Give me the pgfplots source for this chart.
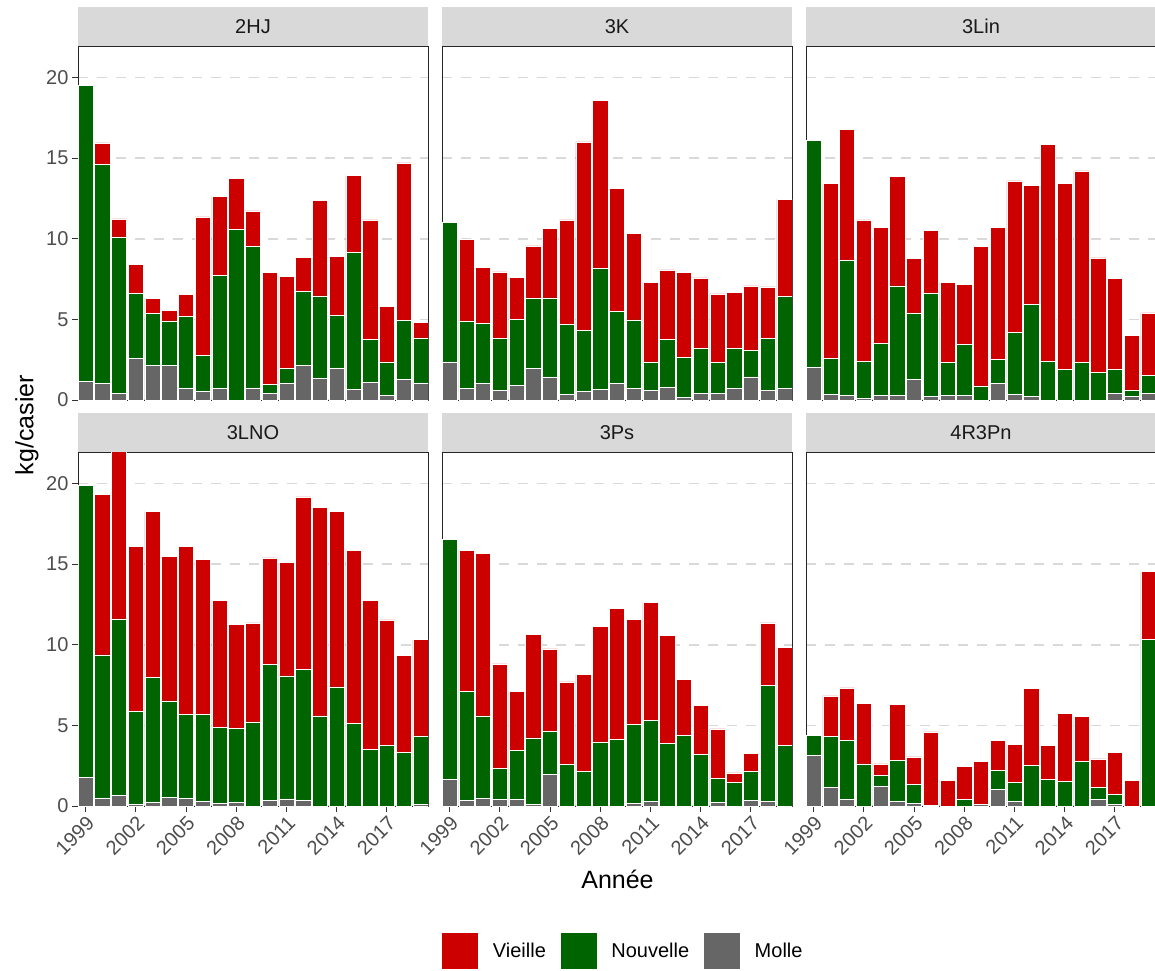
\documentclass[border=0pt]{standalone}
\usepackage{pgfplots}
\usepackage{pgfplotstable}
\usepackage{fontspec}
\setmainfont{Liberation Sans}
\pgfplotsset{compat=1.18}
\definecolor{cV}{HTML}{CD0000}
\definecolor{cN}{HTML}{006400}
\definecolor{cM}{HTML}{666666}
\definecolor{stripc}{HTML}{D9D9D9}
\definecolor{gridc}{HTML}{D9D9D9}
\definecolor{tickc}{HTML}{4D4D4D}

\pgfplotstableread{
year M N V
1999 1.16 18.36 0
2000 1.05 13.54 1.36
2001 0.41 9.70 1.12
2002 2.62 4.01 1.77
2003 2.13 3.26 0.91
2004 2.17 2.74 0.66
2005 0.76 4.42 1.38
2006 0.52 2.27 8.56
2007 0.72 7.00 4.91
2008 0 10.57 3.16
2009 0.76 8.78 2.18
2010 0.39 0.58 6.93
2011 1.05 0.93 5.70
2012 2.17 4.56 2.10
2013 1.36 5.10 5.92
2014 2.00 3.24 3.66
2015 0.64 8.50 4.79
2016 1.11 2.63 7.43
2017 0.31 2.06 3.45
2018 1.26 3.69 9.75
2019 1.07 2.79 0.95
}\tHJ

\pgfplotstableread{
year M N V
1999 2.37 8.63 0
2000 0.70 4.21 5.06
2001 1.01 3.74 3.49
2002 0.58 3.26 4.11
2003 0.89 4.10 2.61
2004 1.96 4.34 3.26
2005 1.44 4.90 4.29
2006 0.37 4.34 6.46
2007 0.52 3.81 11.67
2008 0.64 7.51 10.45
2009 1.01 4.50 7.60
2010 0.70 4.27 5.37
2011 0.62 1.75 4.92
2012 0.78 2.98 4.31
2013 0.17 2.49 5.24
2014 0.41 2.77 4.39
2015 0.41 1.92 4.25
2016 0.70 2.50 3.49
2017 1.44 1.66 3.98
2018 0.62 3.22 3.18
2019 0.72 5.72 6.01
}\tK

\pgfplotstableread{
year M N V
1999 2.04 14.08 0
2000 0.37 2.23 10.82
2001 0.31 8.36 8.11
2002 0.14 2.25 8.78
2003 0.31 3.18 7.20
2004 0.31 6.77 6.77
2005 1.30 4.11 3.38
2006 0.23 6.42 3.86
2007 0.27 2.08 4.94
2008 0.31 3.14 3.71
2009 0 0.87 8.67
2010 1.03 1.47 8.19
2011 0.37 3.84 9.37
2012 0.21 5.71 7.41
2013 0 2.39 13.46
2014 0 1.88 11.54
2015 0 2.33 11.87
2016 0 1.73 7.08
2017 0.41 1.47 5.65
2018 0.21 0.39 3.42
2019 0.41 1.14 3.86
}\tLin

\pgfplotstableread{
year M N V
1999 1.78 18.12 0
2000 0.50 8.87 9.97
2001 0.64 10.96 10.90
2002 0.14 5.72 10.24
2003 0.25 7.74 10.28
2004 0.54 5.98 8.96
2005 0.47 5.19 10.44
2006 0.27 5.43 9.57
2007 0.17 4.70 7.86
2008 0.21 4.60 6.44
2009 0 5.22 6.13
2010 0.35 8.44 6.59
2011 0.45 7.62 7.04
2012 0.37 8.11 10.69
2013 0 5.59 12.92
2014 0 7.39 10.88
2015 0 5.12 10.73
2016 0 3.49 9.24
2017 0 3.76 7.78
2018 0 3.32 6.03
2019 0.08 4.27 5.97
}\tLNO

\pgfplotstableread{
year M N V
1999 1.67 14.88 0
2000 0.37 6.75 8.73
2001 0.47 5.12 10.08
2002 0.43 1.92 6.46
2003 0.39 3.08 3.65
2004 0.10 4.13 6.40
2005 1.96 2.66 5.12
2006 0 2.56 5.14
2007 0 2.13 6.02
2008 0 3.98 7.14
2009 0 4.15 8.09
2010 0.17 4.87 6.52
2011 0.27 5.03 7.33
2012 0 3.88 6.71
2013 0 4.38 3.46
2014 0 3.18 3.05
2015 0.23 1.48 3.08
2016 0 1.47 0.59
2017 0.37 1.76 1.13
2018 0.27 7.20 3.88
2019 0 3.74 6.11
}\tPs

\pgfplotstableread{
year M N V
1999 3.14 1.24 0
2000 1.14 3.17 2.52
2001 0.43 3.64 3.26
2002 0 2.62 3.74
2003 1.22 0.66 0.74
2004 0.27 2.58 3.45
2005 0.17 1.19 1.69
2006 0 0.04 4.56
2007 0 0 1.61
2008 0 0.41 2.07
2009 0.08 0 2.67
2010 1.01 1.22 1.84
2011 0.31 1.16 2.37
2012 0 2.52 4.77
2013 0 1.63 2.11
2014 0 1.55 4.19
2015 0 2.79 2.78
2016 0.41 0.75 1.77
2017 0.08 0.64 2.62
2018 0 0 1.57
2019 0 10.32 4.21
}\tRPn

\pgfplotsset{
  panel/.style={
    width=350pt, height=354pt, scale only axis,
    anchor=south west,
    xmin=1998.55, xmax=2019.45, ymin=0, ymax=21.95,
    ybar stacked, bar width=0.9,
    ytick={0,5,10,15,20},
    ymajorgrids,
    major grid style={gridc, line width=1.6pt, dash pattern=on 10pt off 9pt},
    axis line style={black!85, line width=1pt},
    tick align=outside, xtick pos=lower, ytick pos=left,
    major tick length=6pt,
    tick style={black!80, line width=1pt},
    /pgf/number format/assume math mode=true,
    /pgf/number format/1000 sep={},
    tick label style={font=\fontsize{20}{24}\selectfont, text=tickc},
    xticklabel style={rotate=45, anchor=north east, inner sep=2pt},
    every axis title/.style={at={(0.5,1)}, anchor=south, fill=stripc,
      minimum width=350pt, minimum height=39pt, inner sep=0pt, text=black!90,
      font=\fontsize{20}{24}\selectfont},
    every axis plot/.append style={draw=white, line width=0.5pt},
  },
  toprow/.style={xtick=\empty},
  botrow/.style={xtick={1999,2002,...,2017}},
  noy/.style={yticklabels={}, y tick style={draw=none}},
}

\begin{document}
\begin{tikzpicture}
\useasboundingbox (0pt,0pt) rectangle (1155pt,-970pt);

\begin{axis}[panel, toprow, at={(78pt,-400pt)}, title={2HJ}]
\addplot[fill=cM] table[x=year,y=M]{\tHJ};
\addplot[fill=cN] table[x=year,y=N]{\tHJ};
\addplot[fill=cV] table[x=year,y=V]{\tHJ};
\end{axis}

\begin{axis}[panel, toprow, noy, at={(442pt,-400pt)}, title={3K}]
\addplot[fill=cM] table[x=year,y=M]{\tK};
\addplot[fill=cN] table[x=year,y=N]{\tK};
\addplot[fill=cV] table[x=year,y=V]{\tK};
\end{axis}

\begin{axis}[panel, toprow, noy, at={(806pt,-400pt)}, title={3Lin}]
\addplot[fill=cM] table[x=year,y=M]{\tLin};
\addplot[fill=cN] table[x=year,y=N]{\tLin};
\addplot[fill=cV] table[x=year,y=V]{\tLin};
\end{axis}

\begin{axis}[panel, botrow, at={(78pt,-806pt)}, title={3LNO}]
\addplot[fill=cM] table[x=year,y=M]{\tLNO};
\addplot[fill=cN] table[x=year,y=N]{\tLNO};
\addplot[fill=cV] table[x=year,y=V]{\tLNO};
\end{axis}

\begin{axis}[panel, botrow, noy, at={(442pt,-806pt)}, title={3Ps},
  legend style={at={(0.517,-0.4096)}, anchor=center, draw=none, fill=none,
    legend columns=3, font=\fontsize{20}{24}\selectfont,
    /tikz/every odd column/.append style={column sep=12pt},
    /tikz/every even column/.append style={column sep=12pt}},
  legend image code/.code={\fill[#1] (0pt,-18.5pt) rectangle (37pt,18.5pt);}]
\addlegendimage{fill=cV}
\addlegendimage{fill=cN}
\addlegendimage{fill=cM}
\addplot[fill=cM] table[x=year,y=M]{\tPs};
\addplot[fill=cN] table[x=year,y=N]{\tPs};
\addplot[fill=cV] table[x=year,y=V]{\tPs};
\legend{Vieille,Nouvelle,Molle}
\end{axis}

\begin{axis}[panel, botrow, noy, at={(806pt,-806pt)}, title={4R3Pn}]
\addplot[fill=cM] table[x=year,y=M]{\tRPn};
\addplot[fill=cN] table[x=year,y=N]{\tRPn};
\addplot[fill=cV] table[x=year,y=V]{\tRPn};
\end{axis}

\node[rotate=90, font=\fontsize{25}{30}\selectfont] at (27pt,-425pt) {kg/casier};
\node[font=\fontsize{25}{30}\selectfont] at (617.5pt,-879pt) {Année};
\end{tikzpicture}
\end{document}
